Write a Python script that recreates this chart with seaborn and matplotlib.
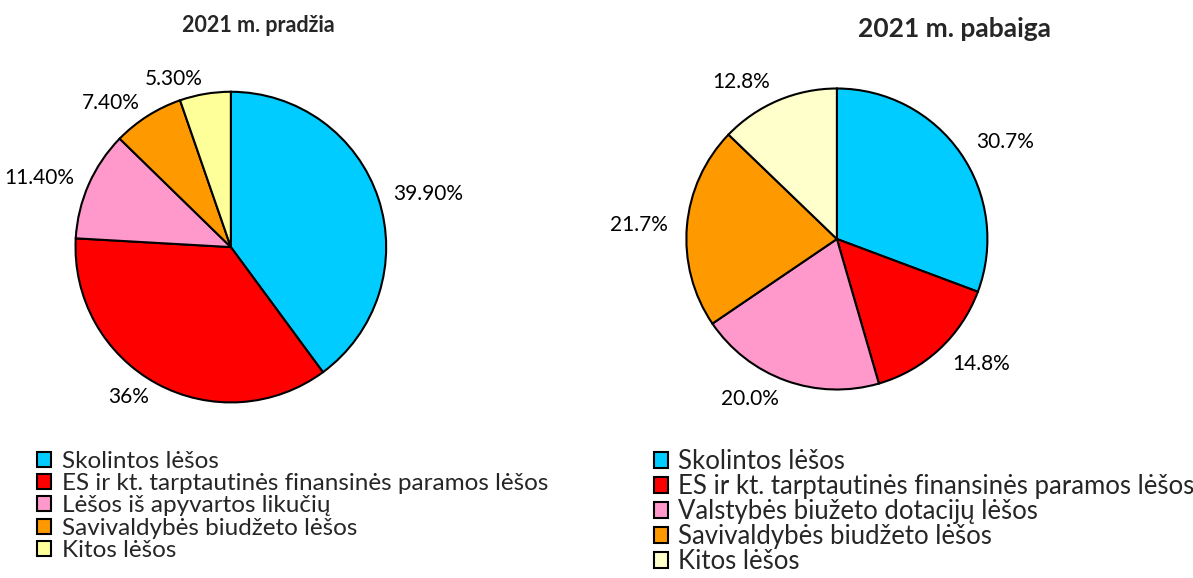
import seaborn as sns
import matplotlib.pyplot as plt

# duomenys
pradzia_kat = ["Skolintos lėšos",
               "ES ir kt. tarptautinės finansinės paramos lėšos",
               "Lėšos iš apyvartos likučių",
               "Savivaldybės biudžeto lėšos",
               "Kitos lėšos"]
pradzia_val = [39.9, 36, 11.4, 7.4, 5.3]
pradzia_lbl = ["39.90%", "36%", "11.40%", "7.40%", "5.30%"]

pabaiga_kat = ["Skolintos lėšos",
               "ES ir kt. tarptautinės finansinės paramos lėšos",
               "Valstybės biužeto dotacijų lėšos",
               "Savivaldybės biudžeto lėšos",
               "Kitos lėšos"]
pabaiga_val = [30.7, 14.8, 20.0, 21.7, 12.8]
pabaiga_lbl = ["30.7%", "14.8%", "20.0%", "21.7%", "12.8%"]

spalvos1 = sns.color_palette(["#00CCFF", "#FF0000", "#FF99CC", "#FF9900", "#FFFF99"])
spalvos2 = sns.color_palette(["#00CCFF", "#FF0000", "#FF99CC", "#FF9900", "#FFFFCC"])

sns.set_theme(style="white")
plt.rcParams['font.family'] = ['Lato', 'DejaVu Sans']

fig = plt.figure(figsize=(11.93, 5.78), dpi=100)

ax1 = fig.add_axes([0.062, 0.301, 0.263, 0.543])
ax2 = fig.add_axes([0.574, 0.3235, 0.255, 0.526])

wedge = dict(edgecolor="black", linewidth=1.5)

w1, t1 = ax1.pie(pradzia_val, labels=pradzia_lbl, colors=spalvos1, startangle=90,
                 counterclock=False, labeldistance=1.1, wedgeprops=wedge,
                 textprops=dict(fontsize=15, color="black"))
w2, t2 = ax2.pie(pabaiga_val, labels=pabaiga_lbl, colors=spalvos2, startangle=90,
                 counterclock=False, labeldistance=1.13, wedgeprops=wedge,
                 textprops=dict(fontsize=15, color="black"))
for ax in (ax1, ax2):
    ax.set_xlim(-1.01, 1.01)
    ax.set_ylim(-1.01, 1.01)

fig.text(258 / 1193, 1 - 25 / 578, "2021 m. pradžia", ha="center", va="center",
         fontsize=15.5, fontweight="bold")
fig.text(955 / 1193, 1 - 29 / 578, "2021 m. pabaiga", ha="center", va="center",
         fontsize=19, fontweight="bold")

fig.legend(w1, pradzia_kat, loc="upper left", bbox_to_anchor=(37 / 1193, 1 - 451 / 578),
           frameon=False, fontsize=17.5, handlelength=0.58, handleheight=0.58,
           handletextpad=0.45, labelspacing=0.05, borderaxespad=0, borderpad=0)
fig.legend(w2, pabaiga_kat, loc="upper left", bbox_to_anchor=(654 / 1193, 1 - 449 / 578),
           frameon=False, fontsize=18.5, handlelength=0.55, handleheight=0.55,
           handletextpad=0.4, labelspacing=0.0, borderaxespad=0, borderpad=0)

plt.savefig("out.png", dpi=100)
